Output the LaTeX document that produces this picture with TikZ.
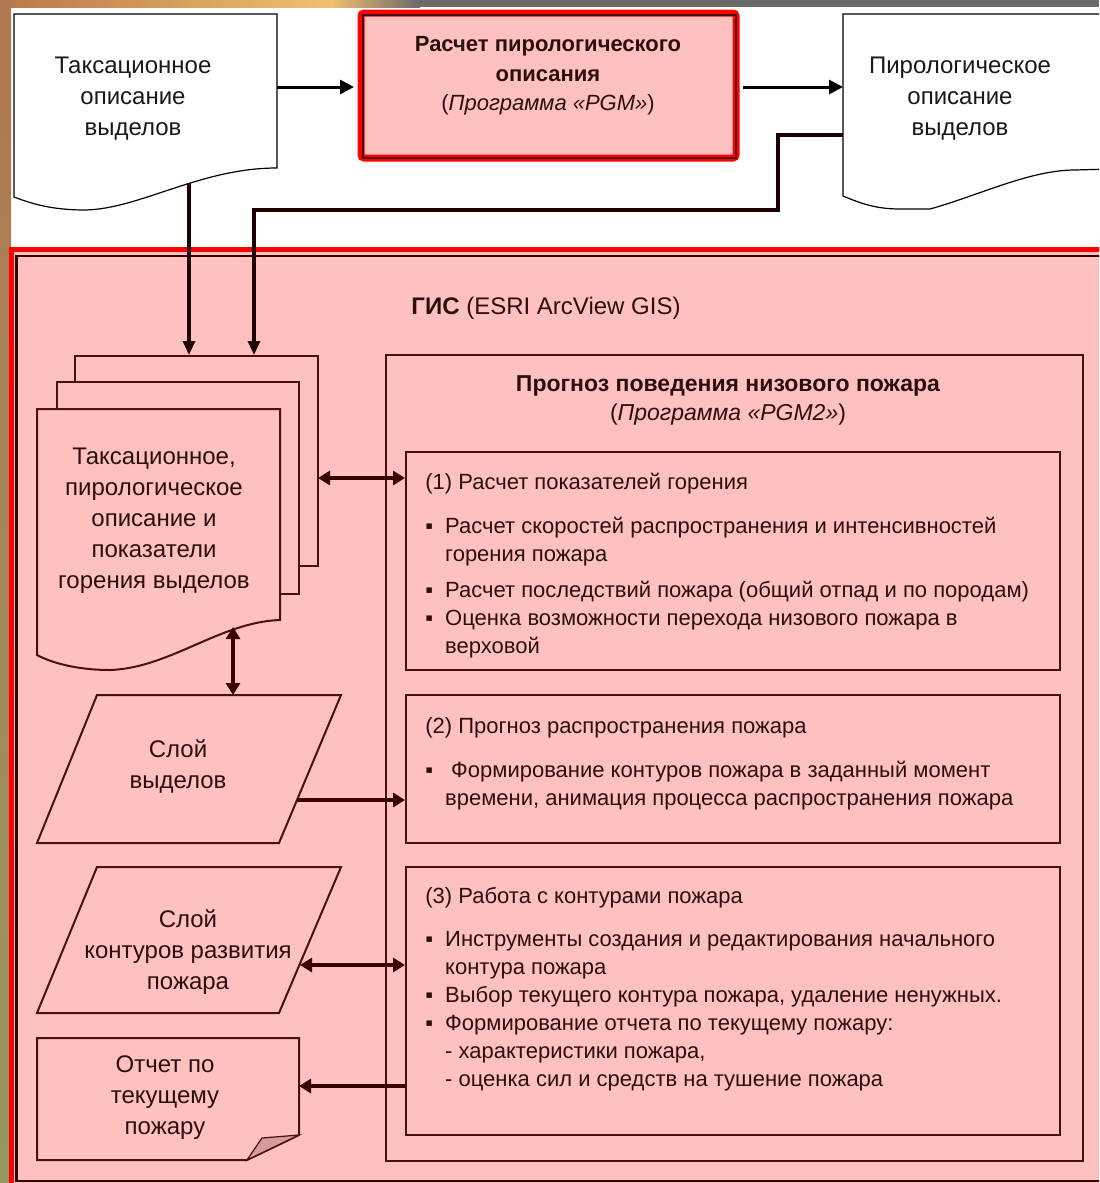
\documentclass[tikz,border=0pt]{standalone}
\usepackage{fontspec}
\setmainfont{Liberation Sans}
\usetikzlibrary{arrows.meta,fit}
\definecolor{pinkbg}{HTML}{FFC0C0}
\definecolor{dkline}{HTML}{4A1010}
\definecolor{arrowc}{HTML}{380000}
\definecolor{toparrowc}{HTML}{1E0000}
\definecolor{txtc}{HTML}{2B0F0F}
\definecolor{redb}{HTML}{FF0000}
\definecolor{foldc}{HTML}{D49C9C}
\definecolor{topA}{HTML}{B87848}
\definecolor{topB}{HTML}{F0C070}
\definecolor{topC}{HTML}{6A6A6A}
\definecolor{sideA}{HTML}{B07850}
\definecolor{sideB}{HTML}{969660}
\tikzset{
  docline/.style={draw=black, line width=0.6pt, fill=white},
  pinkshape/.style={draw=dkline, line width=1pt, fill=pinkbg},
  thinbox/.style={draw=dkline, line width=1pt, inner sep=0pt},
  toparrow/.style={draw=black, line width=1.5pt, -{Triangle[length=7pt,width=7pt]}},
  downarrow/.style={draw=toparrowc, line width=1.6pt, -{Triangle[length=7pt,width=6pt]}},
  garrow/.style={draw=arrowc, line width=2pt, -{Triangle[length=6pt,width=7pt]}},
  gdarrow/.style={draw=arrowc, line width=2pt, {Triangle[length=6pt,width=7pt]}-{Triangle[length=6pt,width=7pt]}},
  doctext/.style={font=\fontsize{12}{15.5}\selectfont, align=center, inner sep=0pt},
  boxtext/.style={font=\fontsize{11}{14}\selectfont, text=txtc, inner sep=0pt},
}
\begin{document}
\begin{tikzpicture}[x=0.5pt,y=-0.5pt]
\useasboundingbox (0,0) rectangle (1099,1183);
\clip (0,0) rectangle (1099,1183);
% background frame
\fill[white] (0,0) rectangle (1099,1183);
\shade[left color=topA, right color=topB] (0,0) rectangle (330,7);
\shade[left color=topB, right color=topC] (330,0) rectangle (420,7);
\fill[topC] (420,0) rectangle (1099,7);
\shade[top color=sideA, bottom color=sideB] (0,0) rectangle (11,1183);

% top-left document
\draw[docline] (277,168) -- (277,14) -- (14,14) -- (14,197)
  .. controls (30,203) and (50,210) .. (85,210)
  .. controls (140,209) and (200,168) .. (277,168) -- cycle;
\node[doctext, text=black!90] (tax) at (133,99) {Таксационное\\описание\\выделов};
\coordinate (taxR) at (277,87);
\coordinate (taxB) at (189,183);

% red program box
\node[draw=redb, line width=3.5pt, fill=pinkbg, rounded corners=1.5pt, inner sep=0pt,
      fit={(361,13) (736,158)}] (pgm) {};
\draw[dkline, line width=1pt] ([shift={(5,5)}]pgm.north west) rectangle ([shift={(-4,-4)}]pgm.south east);
\node[font=\fontsize{11}{14.75}\selectfont, text=txtc, align=center, inner sep=0pt] (pgmt) at (548,76)
  {\textbf{Расчет пирологического}\\\textbf{описания}\\(\textit{Программа «PGM»})};

% top-right document
\draw[docline] (1110,168) -- (1110,14) -- (843,14) -- (843,196)
  .. controls (860,203) and (875,209) .. (900,209) -- (930,209)
  .. controls (980,195) and (1030,170) .. (1075,170) -- (1110,169) -- cycle;
\node[doctext, text=black!90] (pyro) at (960,99) {Пирологическое\\описание\\выделов};
\coordinate (pyroL) at (843,87);
\coordinate (pyroL2) at (843,135);

\draw[toparrow, shorten >=1.75pt] (taxR) -- (pgm.west |- taxR);
\draw[toparrow, shorten <=1.75pt] (pgm.east |- pyroL) -- (pyroL);

% GIS area
\node[fill=pinkbg, inner sep=0pt, fit={(11,249) (1140,1210)}] (gisbox) {};
\draw[redb, line width=2.5pt] (11,1210) -- (11,249) -- (1140,249);
\draw[black!70!red!60!black, line width=1.2pt] (1140,256) -- (16.5,256) -- (16.5,1181) -- (1140,1181);
\node[font=\fontsize{12}{14}\selectfont, text=txtc, anchor=west, inner sep=0pt] (gis) at (411,308)
  {\textbf{ГИС} (ESRI ArcView GIS)};

% stacked documents
\node[thinbox, fill=pinkbg, fit={(75,356) (318,566)}] (docs3) {};
\node[thinbox, fill=pinkbg, fit={(57,382) (299,594)}] (docs2) {};
\draw[pinkshape] (280,620) -- (280,409) -- (37,409) -- (37,655)
  .. controls (50,662) and (75,670) .. (110,670)
  .. controls (170,668) and (220,622) .. (280,620) -- cycle;
\node[doctext, text=txtc] (docs1) at (154,521)
  {Таксационное,\\пирологическое\\описание и\\показатели\\горения выделов};
\coordinate (s3R) at (318,478);
\coordinate (s1B) at (233,627);

% arrows from top into GIS
\coordinate (bend) at (254,210);
\draw[downarrow] (taxB) -- (taxB |- docs3.north);
\draw[downarrow] (pyroL2) -- (778,135) -- (778,210) -- (bend) -- (bend |- docs3.north);

% forecast block
\node[thinbox, fit={(386,355) (1083,1161)}] (prog) {};
\node[font=\fontsize{11.5}{14.5}\selectfont, text=txtc, align=center, inner sep=0pt] (progt) at (728,400)
  {\textbf{Прогноз поведения низового пожара}\\(\textit{Программа «PGM2»})};

\node[thinbox, fit={(406,452) (1060,670)}] (b1) {};
\node[thinbox, fit={(406,695) (1060,843)}] (b2) {};
\node[thinbox, fit={(406,867) (1060,1135)}] (b3) {};

\node[boxtext, anchor=base west] (b1t) at (425,489) {(1) Расчет показателей горения};
\node[boxtext, anchor=base west] (b1l) at (425,533)
  {\begin{tabular}[t]{@{}l@{\hspace{6pt}}l@{}}
  ▪&Расчет скоростей распространения и интенсивностей\\
   &горения пожара\\[4pt]
  ▪&Расчет последствий пожара (общий отпад и по породам)\\
  ▪&Оценка возможности перехода низового пожара в\\
   &верховой
  \end{tabular}};

\node[boxtext, anchor=base west] (b2t) at (425,733) {(2) Прогноз распространения пожара};
\node[boxtext, anchor=base west] (b2l) at (425,777)
  {\begin{tabular}[t]{@{}l@{\hspace{6pt}}l@{}}
  ▪&\hspace{3pt}Формирование контуров пожара в заданный момент\\
   &времени, анимация процесса распространения пожара
  \end{tabular}};

\node[boxtext, anchor=base west] (b3t) at (425,903) {(3) Работа с контурами пожара};
\node[boxtext, anchor=base west] (b3l) at (425,946)
  {\begin{tabular}[t]{@{}l@{\hspace{6pt}}l@{}}
  ▪&Инструменты создания и редактирования начального\\
   &контура пожара\\
  ▪&Выбор текущего контура пожара, удаление ненужных.\\
  ▪&Формирование отчета по текущему пожару:\\
   &- характеристики пожара,\\
   &- оценка сил и средств на тушение пожара
  \end{tabular}};

% layer of stands
\draw[pinkshape] (97,695) -- (341,695) -- (279,843) -- (37,843) -- cycle;
\node[doctext, text=txtc] (sloy1) at (178,766) {Слой\\выделов};
\coordinate (p1top) at (233,695);
\coordinate (p1R) at (297,800);

% layer of fire contours
\draw[pinkshape] (97,867) -- (341,867) -- (279,1013) -- (37,1013) -- cycle;
\node[doctext, text=txtc] (sloy2) at (188,952) {Слой\\контуров развития\\пожара};
\coordinate (p2R) at (300,965);

% report
\draw[pinkshape] (37,1038) -- (299,1038) -- (299,1135) -- (247,1160) -- (37,1160) -- cycle;
\draw[fill=foldc, draw=dkline, line width=0.6pt] (247,1160) -- (262,1138) -- (299,1135) -- cycle;
\node[doctext, text=txtc] (rep) at (165,1098) {Отчет по\\текущему\\пожару};
\coordinate (repR) at (299,1086);

% connectors inside GIS
\draw[gdarrow] (s3R) -- (b1.west |- s3R);
\draw[gdarrow] (s1B) -- (p1top);
\draw[garrow] (p1R) -- (b2.west |- p1R);
\draw[gdarrow] (p2R) -- (b3.west |- p2R);
\draw[garrow] (b3.west |- repR) -- (repR);
\end{tikzpicture}
\end{document}
